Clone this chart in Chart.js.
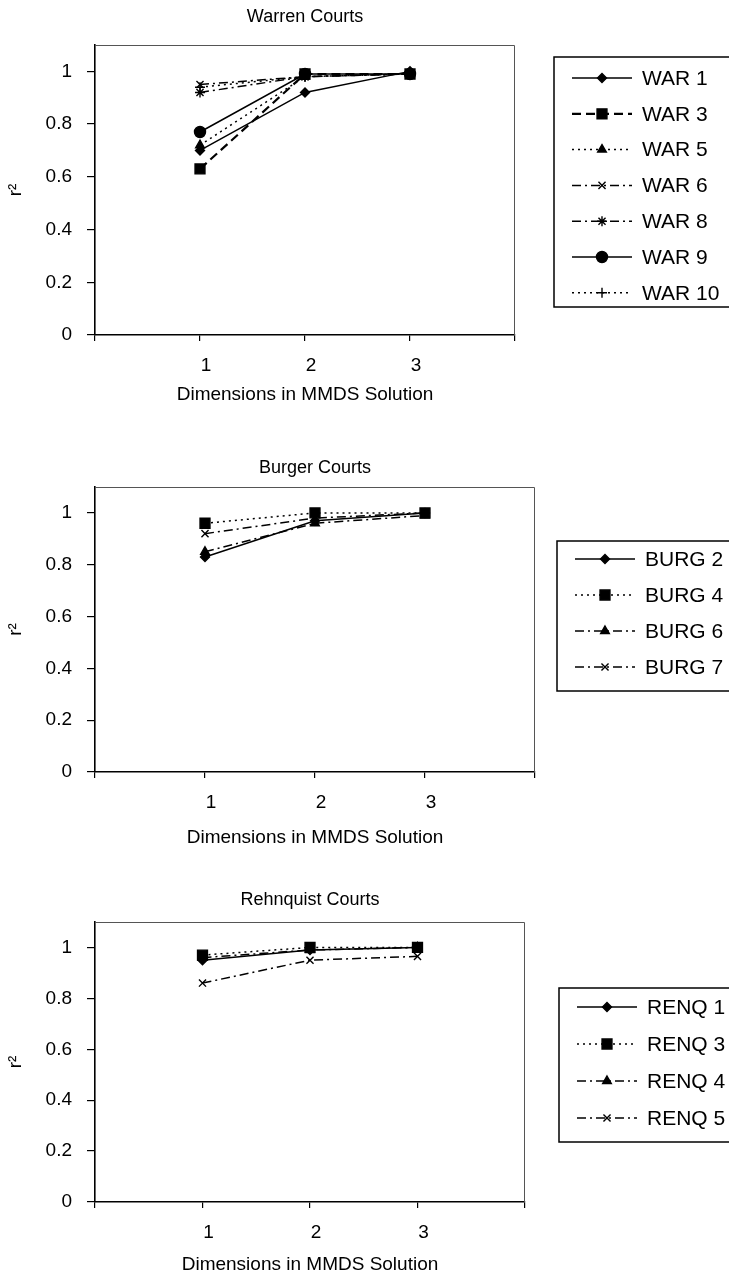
<!DOCTYPE html>
<html>
<head>
<meta charset="utf-8">
<script src="https://cdn.jsdelivr.net/npm/chart.js@4.4.0/dist/chart.umd.min.js"></script>
<style>
  body { margin: 0; background: #fff; width: 729px; height: 1280px; position: relative; overflow: hidden; }
  canvas { position: absolute; left: 0; }
</style>
</head>
<body>
<canvas id="warren" width="729" height="430" style="top:0px"></canvas>
<canvas id="burger" width="729" height="430" style="top:430px"></canvas>
<canvas id="rehnquist" width="729" height="420" style="top:860px"></canvas>
<script>
// datos
const dims = [1, 2, 3];
const xTicks = [0, 1, 2, 3, 4];
const xTickLabels = ['', '1', '2', '3', ''];
const yTicks = [0, 0.2, 0.4, 0.6, 0.8, 1];
const yTickLabels = ['0', '0.2', '0.4', '0.6', '0.8', '1'];

const warLabels = ['WAR 1', 'WAR 3', 'WAR 5', 'WAR 6', 'WAR 8', 'WAR 9', 'WAR 10'];
const war1 = [0.70, 0.92, 1.00];
const war3 = [0.63, 0.99, 0.99];
const war5 = [0.72, 0.98, 0.99];
const war6 = [0.95, 0.98, 0.99];
const war8 = [0.92, 0.98, 0.99];
const war9 = [0.77, 0.99, 0.99];
const war10 = [0.94, 0.98, 0.99];

const burgLabels = ['BURG 2', 'BURG 4', 'BURG 6', 'BURG 7'];
const burg2 = [0.83, 0.97, 1.00];
const burg4 = [0.96, 1.00, 1.00];
const burg6 = [0.85, 0.96, 0.99];
const burg7 = [0.92, 0.98, 1.00];

const renqLabels = ['RENQ 1', 'RENQ 3', 'RENQ 4', 'RENQ 5'];
const renq1 = [0.95, 0.99, 1.00];
const renq3 = [0.97, 1.00, 1.00];
const renq4 = [0.96, 0.99, 1.00];
const renq5 = [0.86, 0.95, 0.965];

const fuente = '"Liberation Sans", Arial, sans-serif';

// tipos de linea
const dashes = {
  solid: [],
  dash: [9, 5],
  dot: [2, 4],
  dashdot: [9, 4, 2, 4]
};

// [linea, marcador, radio, grosor]
const estiloWar = [
  ['solid', 'rectRot', 4.5, 1.5],
  ['dash', 'rect', 7, 2.2],
  ['dot', 'triangle', 5, 1.5],
  ['dashdot', 'crossRot', 5, 1.5],
  ['dashdot', 'star', 5, 1.5],
  ['solid', 'circle', 5.5, 1.5],
  ['dot', 'cross', 5, 1.5]
];
const estiloCorte = [
  ['solid', 'rectRot', 4.5, 1.5],
  ['dot', 'rect', 7, 1.5],
  ['dashdot', 'triangle', 5, 1.5],
  ['dashdot', 'crossRot', 5, 1.5]
];

/**
 * Leyenda con marco, muestra de linea y marcador
 */
const boxLegend = {
  id: 'boxLegend',
  afterDraw(chart, args, opts) {
    const ctx = chart.ctx;
    ctx.save();
    ctx.strokeStyle = '#000';
    ctx.fillStyle = '#000';
    ctx.lineWidth = 1.5;
    ctx.strokeRect(opts.left, opts.top, 760 - opts.left, opts.height);
    ctx.font = '21px ' + fuente;
    ctx.textBaseline = 'middle';
    chart.data.datasets.forEach((ds, i) => {
      const y = opts.firstY + i * opts.rowH;
      const x0 = opts.left + 18, x1 = opts.left + 78;
      ctx.beginPath();
      ctx.setLineDash(ds.borderDash);
      ctx.lineWidth = ds.borderWidth;
      ctx.moveTo(x0, y);
      ctx.lineTo(x1, y);
      ctx.stroke();
      ctx.setLineDash([]);
      ctx.lineWidth = 1.4;
      Chart.helpers.drawPoint(ctx, {
        pointStyle: ds.pointStyle, radius: ds.pointRadius, rotation: 0, borderWidth: 1.4
      }, (x0 + x1) / 2, y);
      ctx.fillText(ds.label, opts.left + 88, y + 1);
    });
    ctx.restore();
  }
};

// marco superior y derecho del area
const marco = {
  id: 'marco',
  afterDraw(chart) {
    const {ctx, chartArea: a} = chart;
    ctx.save();
    ctx.strokeStyle = '#555';
    ctx.lineWidth = 1;
    ctx.beginPath();
    ctx.moveTo(a.left, a.top + 0.5);
    ctx.lineTo(a.right - 0.5, a.top + 0.5);
    ctx.lineTo(a.right - 0.5, a.bottom);
    ctx.stroke();
    ctx.restore();
  }
};

function panel(id, titulo, labels, series, estilos, lay) {
  const datasets = series.map((vals, i) => {
    const e = estilos[i];
    return {
      label: labels[i],
      data: dims.map((d, j) => ({x: d, y: vals[j]})),
      borderColor: '#000',
      backgroundColor: '#000',
      borderWidth: e[3],
      borderDash: dashes[e[0]],
      pointStyle: e[1],
      pointRadius: e[2],
      pointBorderWidth: 1.4,
      pointBackgroundColor: '#000',
      pointBorderColor: '#000',
      tension: 0
    };
  });

  new Chart(document.getElementById(id).getContext('2d'), {
    type: 'line',
    data: {datasets},
    plugins: [boxLegend, marco],
    options: {
      responsive: false,
      animation: false,
      events: [],
      layout: {padding: {left: 0, top: 0, bottom: 0, right: 729 - lay.right}},
      plugins: {
        legend: {display: false},
        tooltip: {enabled: false},
        title: {
          display: true, text: titulo, fullSize: false, color: '#000',
          font: {family: fuente, size: 18, weight: 'normal'},
          padding: {top: lay.titleTop, bottom: lay.titleBottom}
        },
        boxLegend: lay.legend
      },
      scales: {
        x: {
          type: 'linear', min: 0, max: 4,
          afterBuildTicks: s => { s.ticks = xTicks.map(v => ({value: v})); },
          afterFit: s => { s.height = lay.xHeight; },
          ticks: {
            callback: (v, i) => xTickLabels[i],
            color: '#000', font: {family: fuente, size: 19},
            padding: 13, labelOffset: 6, maxRotation: 0, autoSkip: false
          },
          grid: {drawOnChartArea: false, drawTicks: true, tickLength: 6, color: '#000', lineWidth: 1.2},
          border: {color: '#000', width: 1.6},
          title: {
            display: true, text: 'Dimensions in MMDS Solution', color: '#000',
            font: {family: fuente, size: 19}, padding: {top: 0, bottom: lay.xTitlePad}
          }
        },
        y: {
          min: 0, max: 1.1,
          afterBuildTicks: s => { s.ticks = yTicks.map(v => ({value: v})); },
          afterFit: s => { s.width = 95; },
          ticks: {
            callback: (v, i) => yTickLabels[i],
            color: '#000', font: {family: fuente, size: 19}, padding: 15
          },
          grid: {drawOnChartArea: false, drawTicks: true, tickLength: 8, color: '#000', lineWidth: 1.2},
          border: {color: '#000', width: 1.6},
          title: {
            display: true, text: 'r²', color: '#000',
            font: {family: fuente, size: 19}, padding: {top: 4, bottom: 0}
          }
        }
      }
    }
  });
}

panel('warren', 'Warren Courts', warLabels,
  [war1, war3, war5, war6, war8, war9, war10], estiloWar,
  {right: 515, titleTop: 6.2, titleBottom: 17.2, xHeight: 95, xTitlePad: 23.6,
   legend: {left: 554, top: 57, height: 250, firstY: 78, rowH: 35.8}});

panel('burger', 'Burger Courts', burgLabels,
  [burg2, burg4, burg6, burg7], estiloCorte,
  {right: 535, titleTop: 27.2, titleBottom: 8.2, xHeight: 88, xTitlePad: 10.6,
   legend: {left: 557, top: 111, height: 150, firstY: 129, rowH: 36}});

panel('rehnquist', 'Rehnquist Courts', renqLabels,
  [renq1, renq3, renq4, renq5], estiloCorte,
  {right: 525, titleTop: 29.2, titleBottom: 11.2, xHeight: 78, xTitlePad: 3.6,
   legend: {left: 559, top: 128, height: 154, firstY: 147, rowH: 37}});
</script>
</body>
</html>
